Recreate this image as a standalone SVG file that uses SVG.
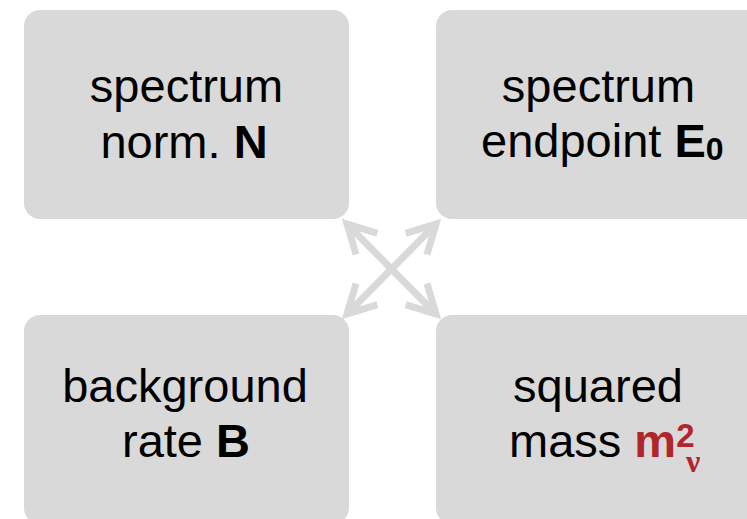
<svg xmlns="http://www.w3.org/2000/svg" width="747" height="519" viewBox="0 0 747 519">
  <style>
    .box { fill: #d9d9d9; }
    .lbl { font-family: "Liberation Sans", Arial, sans-serif; font-size: 47px; fill: #000; }
    .b { font-weight: bold; }
    .red { fill: #b0262c; font-weight: bold; }
    .sup { font-size: 33px; }
    .nu { font-family: "Liberation Serif", "Times New Roman", serif; font-size: 32px; font-weight: bold; fill: #b0262c; }
    .sub0 { font-size: 32px; font-weight: bold; }
    .conn { stroke: #d9d9d9; stroke-width: 7; fill: none; marker-start: url(#chev); marker-end: url(#chev); }
  </style>
  <defs>
    <!-- open chevron head used at both ends of each connector -->
    <marker id="chev" viewBox="-40 -25 50 50" markerWidth="50" markerHeight="50" refX="0" refY="0" markerUnits="userSpaceOnUse" orient="auto-start-reverse">
      <path d="M-28,-15 L0,0 L-28,15" fill="none" stroke="#d9d9d9" stroke-width="7" stroke-linejoin="miter"/>
    </marker>
  </defs>

  <g id="connectors">
    <line class="conn" x1="347" y1="224" x2="436" y2="314"/>
    <line class="conn" x1="436" y1="224" x2="347" y2="314"/>
  </g>

  <g id="node-norm">
    <rect class="box" x="24" y="10" width="325" height="209" rx="16"/>
    <text class="lbl" x="186.5" y="102" text-anchor="middle">spectrum</text>
    <text class="lbl" x="184" y="158" text-anchor="middle">norm. <tspan class="b">N</tspan></text>
  </g>

  <g id="node-endpoint">
    <rect class="box" x="436" y="10" width="325" height="209" rx="16"/>
    <text class="lbl" x="598.5" y="102" text-anchor="middle">spectrum</text>
    <text class="lbl" x="481" y="157">endpoint <tspan class="b">E</tspan><tspan class="sub0" dy="3">0</tspan></text>
  </g>

  <g id="node-background">
    <rect class="box" x="24" y="315" width="325" height="209" rx="16"/>
    <text class="lbl" x="185" y="402" text-anchor="middle">background</text>
    <text class="lbl" x="122" y="457">rate <tspan class="b">B</tspan></text>
  </g>

  <g id="node-mass">
    <rect class="box" x="436" y="315" width="325" height="209" rx="16"/>
    <text class="lbl" x="598" y="402" text-anchor="middle">squared</text>
    <text class="lbl" x="509" y="457">mass <tspan class="red">m</tspan><tspan class="red sup" dy="-10">2</tspan><tspan class="nu" x="686" dy="25">ν</tspan></text>
  </g>
</svg>
